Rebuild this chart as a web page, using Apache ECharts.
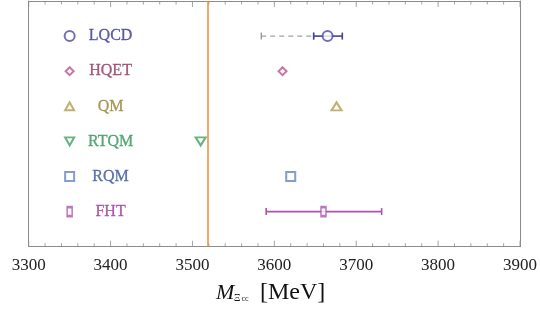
<!DOCTYPE html>
<html><head><meta charset="utf-8">
<script src="https://cdn.jsdelivr.net/npm/echarts@6/dist/echarts.min.js"></script>
<style>html,body{margin:0;padding:0;background:#fff}#c{width:540px;height:312px}</style>
</head><body><div id="c"></div>
<script>
// ---- data ----
const categories = ['LQCD', 'HQET', 'QM', 'RTQM', 'RQM', 'FHT'];
const centralValues = [3665, 3610, 3676, 3510, 3620, 3660];
const statLow  = [3648, null, null, null, null, 3590];
const statHigh = [3683, null, null, null, null, 3731];
const sysLow   = [3584, null, null, null, null, null];
const sysHigh  = [3648, null, null, null, null, null];
const majorTicks = [3300, 3400, 3500, 3600, 3700, 3800, 3900];
const minorTicks = [3320, 3340, 3360, 3380, 3420, 3440, 3460, 3480, 3520, 3540, 3560, 3580,
                    3620, 3640, 3660, 3680, 3720, 3740, 3760, 3780, 3820, 3840, 3860, 3880];
const xMin = 3300, xMax = 3900, xStep = 100;
const selexMass = 3519;
const legendMarkerX = 3350, legendLabelX = 3400;
const yMin = 0, yMax = 7;

// ---- styles ----
const markerColors = ['#4c4ca6', '#bf5290', '#b09e4c', '#40a060', '#6585c2', '#ae54ae'];
const barColors    = ['#42429c', null, null, null, null, '#ac54ac'];
const textColors   = ['#36368f', '#923263', '#968230', '#309254', '#345598', '#983898'];
const symbols = ['emptyCircle', 'emptyDiamond', 'emptyTriangle', 'emptyTriangle', 'emptyRect', 'emptyRect'];
const sizes = [10, 8, [10, 8], [10, 8], 9, [5, 9]];
const rotates = [0, 0, 0, 180, 0, 0];
const legendSizes = [10, 8, [9, 8], [9, 8], 9, [5, 9]];
const frameColor = '#8c8c8c';

const serif = '"Liberation Serif","DejaVu Serif",serif';
const chart = echarts.init(document.getElementById('c'));

const rowY = i => i + 1;

function errBarSeries(lo, hi, color, dashed, name) {
  const d = [];
  lo.forEach((v, i) => { if (v != null) d.push([v, hi[i], rowY(i)]); });
  return {
    type: 'custom', name, xAxisIndex: 0, yAxisIndex: 0, z: 3, silent: true,
    data: d,
    renderItem: (params, api) => {
      const a = api.coord([api.value(0), api.value(2)]);
      const b = api.coord([api.value(1), api.value(2)]);
      const cap = 3.5;
      const st = { stroke: color, lineWidth: dashed ? 1 : 1.6, lineDash: dashed ? [5, 4] : null };
      const cs = { stroke: color, lineWidth: dashed ? 1.2 : 1.6 };
      return { type: 'group', children: [
        { type: 'line', shape: { x1: a[0], y1: a[1], x2: b[0], y2: b[1] }, style: st },
        { type: 'line', shape: { x1: a[0], y1: a[1] - cap, x2: a[0], y2: a[1] + cap }, style: cs },
        { type: 'line', shape: { x1: b[0], y1: b[1] - cap, x2: b[0], y2: b[1] + cap }, style: cs }
      ]};
    }
  };
}

const series = [];

// frame ticks as thin rect symbols on the top and bottom edges, pointing inward
function tickSeries(values, len, atY, dir, name) {
  return {
    type: 'scatter', name, z: 2, silent: true, clip: false,
    symbol: 'rect', symbolSize: [1, len], symbolOffset: [0, dir * len / 2],
    itemStyle: { color: frameColor, borderWidth: 0 },
    data: values.map(v => [v, atY])
  };
}
series.push(tickSeries(majorTicks, 6, yMax, -1, 'majorBottom'));
series.push(tickSeries(minorTicks, 3.5, yMax, -1, 'minorBottom'));
series.push(tickSeries(majorTicks, 6, yMin, 1, 'majorTop'));
series.push(tickSeries(minorTicks, 3.5, yMin, 1, 'minorTop'));

series.push(errBarSeries(sysLow, sysHigh, '#8a8a8a', true, 'sys'));
categories.forEach((name, i) => {
  if (statLow[i] != null) {
    const lo = statLow.map((v, j) => j === i ? v : null);
    const hi = statHigh.map((v, j) => j === i ? v : null);
    series.push(errBarSeries(lo, hi, barColors[i], false, 'stat-' + name));
  }
});

categories.forEach((name, i) => {
  series.push({
    type: 'scatter', name, z: 5, silent: true,
    symbol: symbols[i], symbolSize: sizes[i], symbolRotate: rotates[i],
    itemStyle: { color: markerColors[i], borderColor: markerColors[i], borderWidth: 1.3 },
    data: [[centralValues[i], rowY(i)]]
  });
  series.push({
    type: 'scatter', name: name + '-key', z: 5, silent: true,
    symbol: symbols[i], symbolSize: legendSizes[i], symbolRotate: rotates[i],
    itemStyle: { color: markerColors[i], borderColor: markerColors[i], borderWidth: 1.2 },
    data: [[legendMarkerX, rowY(i)]]
  });
  series.push({
    type: 'scatter', name: name + '-label', z: 5, symbolSize: 0, silent: true,
    data: [[legendLabelX, rowY(i)]],
    label: { show: true, position: 'inside', formatter: name, color: textColors[i],
             fontFamily: serif, fontSize: 16, textBorderColor: textColors[i], textBorderWidth: 0.3 }
  });
});

series.push({
  type: 'line', data: [], name: 'selex',
  markLine: { symbol: 'none', silent: true, label: { show: false },
    lineStyle: { color: '#f08a38', width: 1.5, type: 'solid' },
    data: [{ xAxis: selexMass }] }
});

function xAxisOpt(pos, showLabels) {
  return {
    type: 'value', min: xMin, max: xMax, interval: xStep, position: pos,
    axisLine: { show: true, onZero: false, lineStyle: { color: frameColor, width: 1 } },
    axisTick: { show: false },
    minorTick: { show: false },
    splitLine: { show: false },
    axisLabel: showLabels
      ? { show: true, color: '#222', fontFamily: serif, fontSize: 17, margin: 10, formatter: v => String(v) }
      : { show: false }
  };
}
function yAxisOpt(pos) {
  return { type: 'value', min: yMin, max: yMax, inverse: true, position: pos,
    axisLine: { show: true, onZero: false, lineStyle: { color: frameColor } }, axisTick: { show: false },
    axisLabel: { show: false }, splitLine: { show: false } };
}

chart.setOption({
  animation: false,
  backgroundColor: '#fff',
  grid: { left: 28.7, right: 16.7, top: 1, bottom: 65.3 },
  xAxis: [xAxisOpt('bottom', true), xAxisOpt('top', false)],
  yAxis: [yAxisOpt('left'), yAxisOpt('right')],
  graphic: [
    { type: 'text', left: 216, top: 282, style: { text: 'M', font: 'italic 22px ' + serif, fill: '#111' } },
    { type: 'text', left: 234, top: 293, style: { text: 'Ξ', font: '10px ' + serif, fill: '#111' } },
    { type: 'text', left: 241.5, top: 294.5, style: { text: 'cc', font: '8px ' + serif, fill: '#111' } },
    { type: 'text', left: 260, top: 281, style: { text: '[MeV]', font: '24px ' + serif, fill: '#111' } }
  ],
  series
});
</script></body></html>
